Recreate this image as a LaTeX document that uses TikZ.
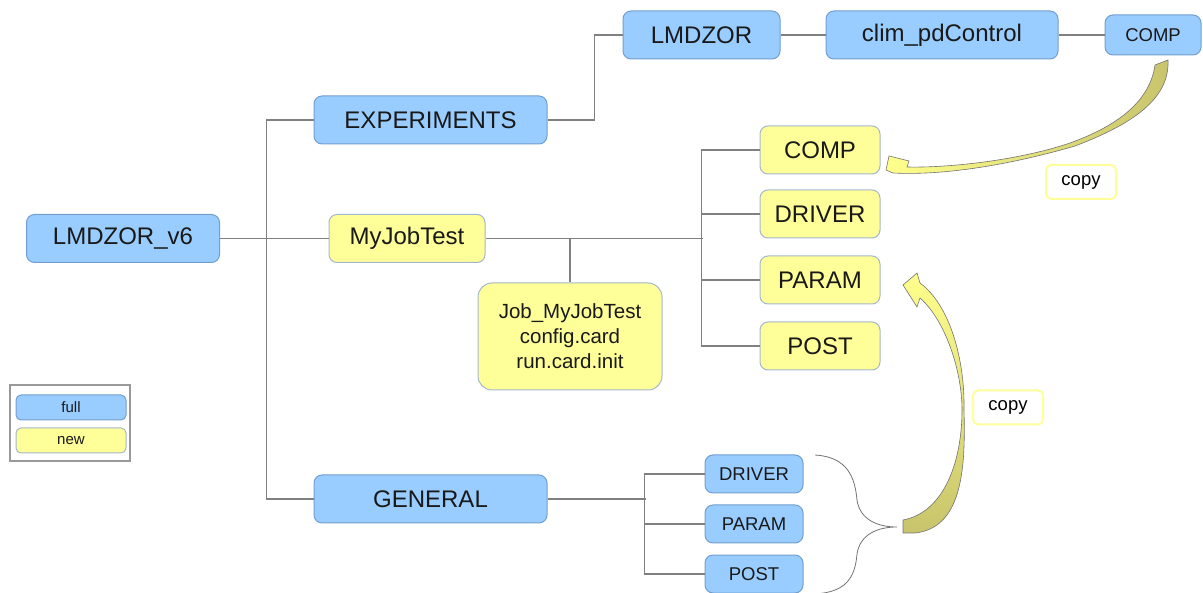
\documentclass[tikz,border=0pt]{standalone}
\usepackage{fontspec}
\setmainfont{Liberation Sans}

\definecolor{fullfill}{HTML}{99CCFF}
\definecolor{fullline}{HTML}{729FCF}
\definecolor{newfill}{HTML}{FFFF99}
\definecolor{newline}{HTML}{A3B7CC}
\definecolor{linkgray}{HTML}{808080}
\definecolor{arrowlight}{HTML}{FFFF8C}
\definecolor{arrowdark}{HTML}{C8C46C}

\tikzset{
    box/.style={draw, rounded corners=8pt, line width=1pt, inner sep=0pt,
        minimum height=48pt, text=black!90, font=\fontsize{24}{28}\selectfont},
    fullbox/.style={box, fill=fullfill, draw=fullline},
    newbox/.style={box, fill=newfill, draw=newline},
    smallbox/.style={minimum width=98pt, minimum height=38pt, font=\fontsize{18.5}{22}\selectfont},
    copybox/.style={draw=newfill, line width=2pt, fill=white, rounded corners=5pt,
        minimum width=70pt, minimum height=34pt, inner sep=0pt, font=\fontsize{18.5}{22}\selectfont},
    link/.style={draw=linkgray, line width=1.2pt},
    copyarrow/.style={draw=black!55, line width=0.6pt},
}

\begin{document}
\begin{tikzpicture}[x=1pt, y=-1pt]
    \useasboundingbox (0,0) rectangle (1203,593);

    % Root and first level
    \node[fullbox, minimum width=193pt] (v6) at (123,238.5) {LMDZOR\_v6};
    \node[fullbox, minimum width=233pt] (exp) at (430.5,120) {EXPERIMENTS};
    \node[newbox, minimum width=156pt] (myjob) at (407,238.5) {MyJobTest};
    \node[fullbox, minimum width=233pt] (gen) at (430.5,499) {GENERAL};

    % Experiments branch
    \node[fullbox, minimum width=157pt] (lmdzor) at (701.5,35) {LMDZOR};
    \node[fullbox, minimum width=232pt] (clim) at (942,35) {clim\_pdControl};
    \node[fullbox, smallbox, minimum width=96pt, minimum height=40pt] (xcomp) at (1153,35) {COMP};

    % MyJobTest contents
    \node[newbox, minimum width=120pt] (comp) at (820,150) {COMP};
    \node[newbox, minimum width=120pt] (driver) at (820,214) {DRIVER};
    \node[newbox, minimum width=120pt] (param) at (820,280) {PARAM};
    \node[newbox, minimum width=120pt] (post) at (820,346) {POST};
    \node[newbox, minimum width=184pt, minimum height=107pt, rounded corners=14pt,
        align=center, font=\fontsize{20.5}{25}\selectfont] (job) at (570,336.5)
        {Job\_MyJobTest\\config.card\\run.card.init};

    % General contents
    \node[fullbox, smallbox] (gdriver) at (754,474) {DRIVER};
    \node[fullbox, smallbox] (gparam) at (754,524) {PARAM};
    \node[fullbox, smallbox] (gpost) at (754,574) {POST};

    % Connectors
    \draw[link] (v6.east) -- (myjob.west);
    \draw[link] (exp.west) -- ++(-47,0) |- (gen.west);
    \draw[link] (exp.east) -- ++(47,0) |- (lmdzor.west);
    \draw[link] (lmdzor.east) -- (clim.west);
    \draw[link] (clim.east) -- (xcomp.west);
    \draw[link] (myjob.east) -- ++(217,0);
    \draw[link] (comp.west) -- ++(-58,0) |- (post.west);
    \draw[link] (driver.west) -- ++(-58,0);
    \draw[link] (param.west) -- ++(-58,0);
    \draw[link] (job.north) -- (job.north |- myjob.east);
    \draw[link] (gen.east) -- ++(98,0);
    \draw[link] (gdriver.west) -- ++(-60,0) |- (gpost.west);
    \draw[link] (gparam.west) -- ++(-60,0);

    % Brace round the general files
    \draw[draw=black!55, line width=0.8pt] (815,455)
        .. controls (848,457) and (855,478) .. (857,500)
        .. controls (860,520) and (878,527) .. (897,527)
        .. controls (878,527) and (860,534) .. (857,554)
        .. controls (855,578) and (846,592) .. (815,594);

    % Copy arrows
    \shadedraw[copyarrow, left color=arrowlight, right color=arrowdark]
        (1155,65)
        .. controls (1150,100) and (1120,125) .. (1070,143)
        .. controls (1020,160) and (950,168) .. (907,167)
        -- (909,161) -- (889,156) -- (886,170) -- (893,173)
        .. controls (950,176) and (1020,162) .. (1075,146)
        .. controls (1130,125) and (1170,100) .. (1168,60)
        -- cycle;
    \node[copybox] (copya) at (1081,182) {copy};

    \shadedraw[copyarrow, top color=arrowlight, bottom color=arrowdark]
        (903,520)
        .. controls (945,512) and (962,460) .. (962,410)
        .. controls (962,370) and (945,320) .. (920,298)
        -- (917,307) -- (903,285) -- (917,273) -- (920,283)
        .. controls (950,305) and (965,360) .. (964,410)
        .. controls (966,475) and (960,528) .. (915,533)
        -- (903,533) -- cycle;
    \node[copybox] (copyb) at (1008,407.5) {copy};

    % Legend
    \node[draw=black!40, line width=1.5pt, fill=white, minimum width=120pt,
        minimum height=76pt] (legend) at (70,423) {};
    \node[fullbox, minimum width=110pt, minimum height=25pt, rounded corners=5pt,
        font=\fontsize{15}{18}\selectfont] (lfull) at (71,407.5) {full};
    \node[newbox, minimum width=110pt, minimum height=25pt, rounded corners=5pt,
        font=\fontsize{15}{18}\selectfont] (lnew) at (71,440.5) {new};
\end{tikzpicture}
\end{document}
